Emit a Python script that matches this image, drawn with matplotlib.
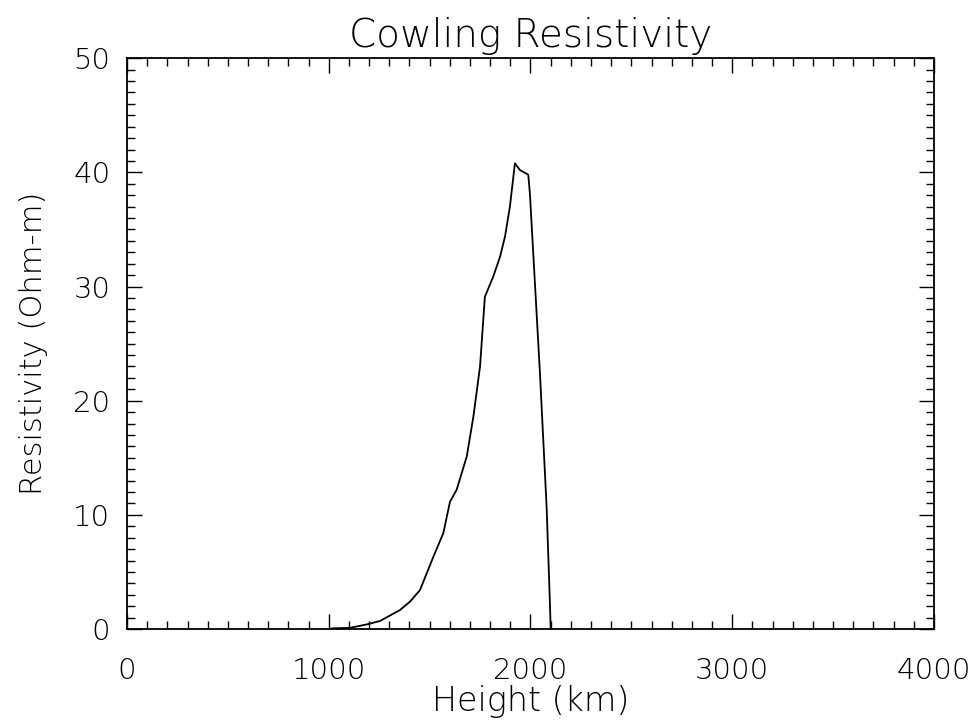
import numpy as np
import matplotlib
matplotlib.use("Agg")
import matplotlib.pyplot as plt
from matplotlib.ticker import MultipleLocator

# Cowling resistivity profile
height_km = [1000, 1023, 1105, 1188, 1254, 1353, 1403, 1452, 1518, 1568, 1601,
             1634, 1684, 1717, 1750, 1774, 1816, 1849, 1874, 1898, 1923, 1948,
             1989, 1997, 2047, 2080, 2097, 2100]
resistivity = [0.0, 0.06, 0.1, 0.4, 0.7, 1.66, 2.4, 3.4, 6.3, 8.4, 11.15,
               12.2, 15.1, 18.6, 23.0, 29.1, 30.9, 32.6, 34.4, 37.0, 40.8, 40.2,
               39.8, 38.2, 22.4, 10.7, 1.95, 0.0]

x_ticks = [0, 1000, 2000, 3000, 4000]
y_ticks = [0, 10, 20, 30, 40, 50]

plt.rcParams['font.family'] = ['DejaVu Sans']
plt.rcParams['font.weight'] = 'light'
plt.rcParams['axes.titleweight'] = 'light'
plt.rcParams['axes.labelweight'] = 'light'

fig = plt.figure(figsize=(9.8, 7.28), dpi=100)
ax = fig.add_axes([0.1296, 0.136, 0.953 - 0.1296, 0.920 - 0.136])

ax.plot(height_km, resistivity, color='black', linewidth=1.3)

ax.set_xlim(0, 4000)
ax.set_ylim(0, 50)
ax.set_xticks(x_ticks)
ax.set_yticks(y_ticks)
ax.xaxis.set_minor_locator(MultipleLocator(100))
ax.yaxis.set_minor_locator(MultipleLocator(1))
ax.tick_params(which='both', direction='in', top=True, right=True,
               width=1.0, labelsize=21, color='black', labelcolor='black')
ax.tick_params(which='major', length=11)
ax.tick_params(axis='x', which='major', pad=20)
ax.tick_params(axis='y', which='major', pad=12)
ax.tick_params(which='minor', length=6)
for s in ax.spines.values():
    s.set_linewidth(1.3)

ax.set_title("Cowling Resistivity", fontsize=28, pad=8)
ax.set_xlabel("Height (km)", fontsize=24, labelpad=0)
ax.set_ylabel("Resistivity (Ohm-m)", fontsize=22, labelpad=18)

fig.savefig("out.png", dpi=100)
